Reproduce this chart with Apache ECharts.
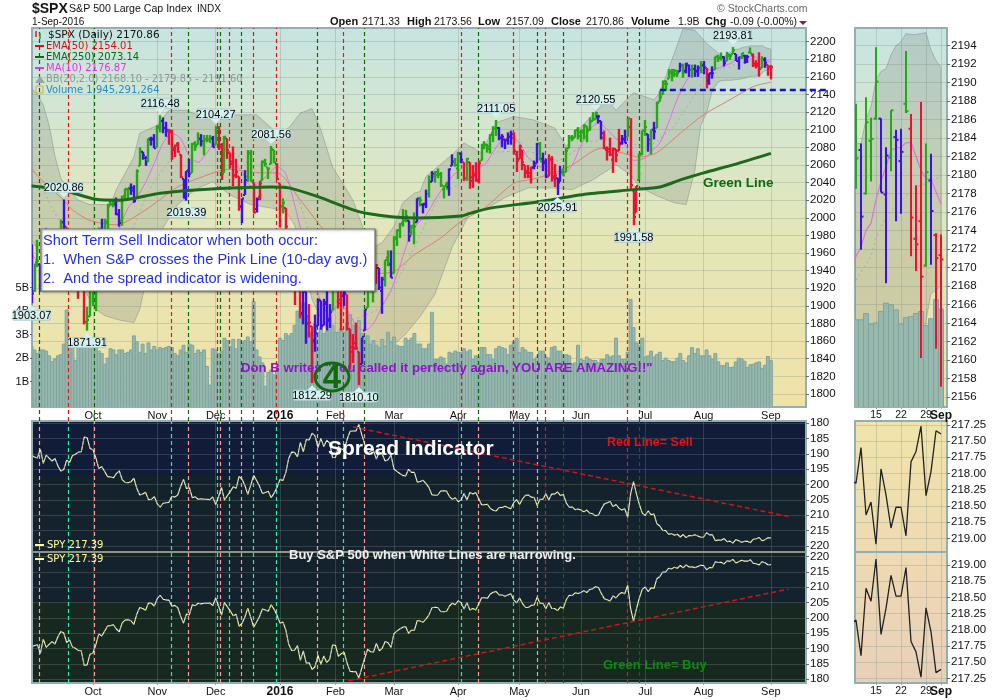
<!DOCTYPE html>
<html>
<head>
<meta charset="utf-8">
<title>$SPX</title>
<script src="https://cdn.jsdelivr.net/npm/echarts@6/dist/echarts.min.js"></script>
<style>
html,body{margin:0;padding:0;background:#fff;}
#main{width:1000px;height:700px;}
</style>
</head>
<body>
<div id="main"></div>
<script>
// bars are addressed by trading day number, 0 = 1-Sep-2015
var opens = [
1970,1917,1950,1947,1927,1972,1938,1951,1963,1955,1979,1995,1989,1961,1961,1943,1934,1936,1929,1881,1888,
1919,1921,1954,1987,1982,1994,2014,2015,2015,2004,1997,2025,2032,2033,2034,2022,2059,2075,2068,2066,2089,2090,
2080,2102,2110,2102,2098,2097,2077,2084,2072,2044,2023,2054,2051,2084,2083,2090,2084,2089,2089,2090,
2083,2102,2081,2051,2090,2074,2061,2048,2047,2013,2026,2047,2074,2040,2010,2024,2042,2063,2057,2061,2077,2061,
2039,2013,2011,1985,1946,1927,1928,1941,1892,1916,1888,1877,1861,1877,1906,1878,1902,1885,1895,
1937,1935,1907,1911,1913,1874,1848,1858,1848,1834,1872,1898,1928,1917,1925,1943,1917,1932,1955,1947,
1937,1976,1986,1994,1997,1997,1982,1991,1995,2020,2015,2015,2027,2041,2047,2049,2049,2032,2038,2035,2059,2063,
2056,2073,2063,2045,2063,2046,2050,2043,2065,2083,2083,2078,2096,2101,2102,2091,2089,2089,2092,2091,2072,
2067,2077,2060,2053,2047,2057,2062,2084,2067,2062,2047,2066,2045,2045,2041,2053,2052,2079,2091,2091,2100,
2093,2097,2104,2100,2110,2112,2115,2110,2091,2077,2078,2066,2078,2076,2085,2090,2092,2103,2031,2006,2043,2073,
2099,2095,2084,2100,2102,2132,2140,2155,2158,2166,2162,2163,2166,2172,2167,2173,2168,2169,2166,2169,
2173,2170,2156,2164,2168,2183,
2182,2182.7,2178,2183.7,2186.1,2186.1,2177.9,2181.9,2184.1,2181.5,2187.7,2185,2173.1,2175,2170.2,2179.4,2173.5,2171.33
];
var highs = [
1970,1948,1975,1947,1970,1988,1962,1961,1963,1983,1998,2020.86,1989,1981,1961,1950,1938,1953,1935,1899,1920,
1928,1951,1989,1999,1999,2016,2021,2019,2023,2010,2025,2033,2034,2039,2037,2055,2080,2075,2070,2090,2092,2095,
2105,2116.48,2114,2109,2101,2100,2083,2086,2072,2044,2053,2067,2085,2087,2097,2095,2094,2094,2094,2093,
2104.27,2104,2085,2093,2090,2074,2081,2067,2047,2022,2054,2077,2077,2040,2023,2042,2065,2067,2057,2081.56,2077,2062,
2039,2022,2011,1985,1960,1936,1948,1951,1935,1916,1902,1877,1890,1908,1906,1908,1917,1902,1940,
1947,1935,1918,1927,1913,1874,1868,1881,1848,1864,1896,1931,1933,1919,1947,1943,1933,1952,1963,1963,
1979,1987,1994,2010,2009,1997,1992,2006,2022,2024,2016,2032,2048,2053,2053,2056,2052,2037,2041,2056,2072,2068,
2075,2074,2063,2068,2063,2060,2063,2065,2084,2087,2084,2095,2104,2111.05,2103,2095,2089,2097,2099,2097,2076,
2083,2077,2060,2060,2058,2065,2085,2086,2074,2067,2072,2070,2061,2045,2059,2056,2080,2094,2094,2100,2103,
2100,2106,2104,2114,2120,2120.55,2117,2110,2099,2081,2091,2080,2078,2101,2094,2100,2113,2113,2031,2036,2073,2099,
2111,2095,2100,2109,2132,2144,2156,2156,2169,2169,2169,2168,2176,2175,2176,2174,2174,2174,2173,2178,
2178,2170,2164,2172,2183,2185,
2187.7,2183.4,2188.4,2186.2,2193.81,2186.1,2183,2187,2184.9,2185,2193.4,2186.6,2178.9,2187.9,2183.4,2182.3,2173.7,2173.56
];
var lows = [
1903.07,1916,1944,1916,1927,1937,1930,1939,1948,1949,1977,1986,1953,1949,1929,1927,1908,1917,1879,1871.91,1888,
1900,1894,1954,1972,1976,1987,2014,2012,2003,1990,1991,2020,2022,2026,2017,2022,2059,2066,2059,2063,2082,2079,
2080,2097,2096,2092,2083,2066,2069,2074,2045,2022,2019.39,2046,2051,2076,2083,2081,2071,2086,2085,2080,
2083,2077,2043,2051,2067,2056,2036,2045,2008,1994,2026,2041,2041,2005,2006,2020,2042,2058,2044,2061,2062,2044,
1989,2005,1979,1938,1918,1901,1918,1886,1879,1857,1864,1812.29,1848,1877,1873,1878,1872,1875,1895,
1921,1897,1872,1900,1872,1828,1835,1850,1810.10,1834,1872,1898,1915,1904,1925,1918,1891,1922,1945,1932,
1937,1968,1977,1990,1995,1973,1980,1970,1995,2013,2005,2011,2023,2041,2040,2045,2035,2022,2032,2025,2059,2058,
2044,2062,2042,2042,2033,2034,2041,2039,2065,2078,2074,2073,2086,2093,2088,2080,2078,2083,2083,2072,2052,
2067,2054,2045,2045,2039,2055,2062,2065,2053,2045,2047,2041,2035,2025.91,2041,2048,2052,2079,2087,2091,2089,
2086,2089,2086,2099,2110,2112,2107,2089,2078,2065,2070,2051,2063,2076,2083,2085,2092,2032,1991.58,2006,2043,2071,
2093,2075,2072,2089,2102,2132,2140,2144,2158,2155,2160,2160,2166,2159,2164,2160,2159,2160,2160,2164,
2163,2147,2151,2158,2168,2177,
2178.5,2171.9,2177.9,2179.3,2186,2178.1,2168.3,2180.4,2175,2175.8,2186.7,2171.2,2169.6,2160.2,2170.1,2170.3,2161.2,2157.09
];
var closes = [
1914,1949,1951,1921,1969,1942,1952,1961,1953,1978,1995,1990,1958,1967,1943,1939,1932,1931,1882,1884,1920,
1924,1951,1987,1980,1996,2013,2015,2017,2004,1994,2024,2033,2034,2031,2019,2053,2075,2071,2066,2090,2089,2079,
2104,2110,2102,2100,2099,2079,2082,2075,2046,2023,2053,2050,2084,2081,2089,2087,2089,2089,2090,2080,
2103,2080,2050,2092,2077,2064,2048,2052,2012,2022,2043,2073,2042,2006,2021,2039,2064,2061,2056,2078,2063,2044,
2013,2017,1990,1943,1922,1924,1939,1890,1922,1880,1881,1859,1869,1907,1877,1904,1883,1893,1940,
1939,1903,1913,1915,1880,1853,1852,1852,1829,1865,1896,1927,1918,1918,1946,1921,1930,1952,1948,1932,
1978,1986,1993,2000,2002,1979,1989,1990,2022,2020,2016,2027,2041,2050,2052,2050,2037,2036,2037,2055,2064,2060,
2073,2066,2045,2067,2042,2048,2042,2062,2082,2083,2081,2094,2101,2102,2091,2092,2088,2092,2095,2076,2065,
2081,2063,2051,2051,2057,2059,2084,2064,2064,2047,2067,2047,2048,2040,2052,2048,2076,2091,2090,2099,2097,
2099,2105,2099,2109,2112,2119,2115,2096,2079,2075,2072,2078,2071,2083,2089,2085,2113,2037,2001,2036,2071,2099,
2103,2089,2100,2098,2130,2137,2152,2152,2164,2162,2167,2164,2173,2165,2175,2168,2169,2167,2170,2174,
2171,2157,2164,2164,2183,2181,
2181.8,2175.5,2185.7,2183.9,2190.1,2178.1,2182.1,2187,2183.8,2182.5,2186.9,2175.4,2172.5,2169,2180.3,2176.1,2171,2170.86
];
// g / b / r per bar, as coloured in the picture
var barTints = ("bggbgbggbggbrgrrrrrgg" + "gggbggggbbgggbbggbbgbb" + "ggbbrrrrrbbbgggbgggb" + "grrgrrrrrbbggrbrgggggr" +
	"rgrrrrrrbbrrbbbbbbg" + "grrbrrrrrbbgggrbbggb" + "gggggbggbgbbgbgggggbbg" + "gbrgrrrrggggggbbbbbrr" +
	"rrrrrbbgbbrrrbbgggggg" + "ggggggbbrrrrrrbbgrrrgg" + "gbgbggggggggbgbbgbbg" + "brbbgg" + "gbgggbbgbbgrrrgbrr");
// billions of shares
var volumes = [
2.5,2.35,2.2,2.35,2.35,2.3,2.1,1.85,1.97,2.1,2.15,2.6,4.05,2.75,2.55,1.9,2.6,2.6,2.9,2.75,2.65,
2.6,2.5,2.3,2.2,1.75,2.0,2.4,2.35,2.15,2.35,2.35,2.2,2.25,2.35,2.95,2.7,2.25,2.6,2.2,2.65,2.35,2.5,
2.35,2.45,2.4,2.45,2.5,2.45,2.2,2.1,2.35,2.55,2.25,2.6,2.55,2.2,2.35,2.25,2.35,1.65,0.85,2.4,
2.35,2.2,2.3,2.85,2.75,2.5,2.8,2.4,2.8,2.65,2.75,2.9,2.7,4.4,2.35,2.05,1.8,0.8,1.4,1.5,1.3,1.5,
2.85,2.75,3.05,2.95,3.05,3.4,4.0,3.7,4.35,3.75,3.1,3.0,3.45,3.1,3.3,3.05,3.15,3.75,3.4,
3.1,3.1,3.25,3.1,3.5,3.85,3.4,3.4,3.6,3.05,2.85,2.95,2.6,2.75,2.55,2.45,2.8,2.5,3.1,2.7,
2.9,2.55,2.5,2.5,2.85,2.75,2.85,3.05,2.6,2.6,2.4,2.4,2.6,3.95,1.95,1.95,2.05,2.0,1.75,2.25,2.2,2.3,
2.25,2.25,2.4,2.27,2.35,1.95,2.1,2.05,2.45,2.45,2.15,2.15,1.95,2.4,2.5,2.45,2.4,2.15,2.55,2.7,2.85,
2.25,2.45,2.35,2.25,2.25,1.95,2.05,2.3,2.3,2.05,2.0,2.45,2.5,2.3,2.3,2.1,2.15,2.1,1.75,1.8,2.55,
1.95,1.9,2.05,1.95,1.9,1.9,1.8,1.95,1.95,2.15,2.05,2.1,2.85,2.1,1.95,1.95,2.25,4.5,3.3,2.65,2.55,2.85,
2.05,2.1,2.3,2.05,2.15,2.25,1.9,2.0,1.9,1.85,1.85,2.0,2.2,1.9,1.8,2.1,2.45,2.2,2.4,2.1,
2.1,2.35,2.1,1.95,2.2,1.85,
1.68,1.68,1.8,1.6,1.62,1.84,2.0,1.97,1.87,1.6,1.72,1.74,1.8,1.84,1.57,1.7,2.07,1.89
];
var spy = [
190.5,191,191.3,188.4,193.1,190.4,191.4,192.3,191.5,193.9,195.6,195.1,192,192.8,190.5,190.1,189.4,189.3,184.5,184.7,188.2,
188.6,191.3,194.8,194.1,195.7,197.4,197.5,197.8,196.4,195.5,198.4,199.3,199.4,199.1,197.9,201.2,203.4,203.1,202.5,204.9,204.8,203.9,
206.3,207.4,206.1,205.9,205.8,203.8,204.1,203.4,200.6,198.3,201.3,201,204.3,204,204.8,204.6,204.8,204.8,204.9,204,
206.5,203.9,200.9,205.1,203.6,202.3,200.7,201.2,197.3,198.2,200.3,203.2,200.2,197,198.7,200.5,202.9,202.6,202.2,204.3,202.8,200.9,
198.3,198.7,196.1,191.4,189.4,189.5,191,186.2,189.3,185.3,185.4,183.2,184.1,187.9,184.9,187.6,185.5,186.5,191.2,
191.1,187.5,188.4,188.7,185.2,182.6,182.5,182.5,180.4,183.7,186.8,189.8,189,188.9,191.7,189.3,190.1,192.3,191.9,190.4,
194.9,195.7,196.4,197,197.2,195,196,196,199.2,199,198.6,199.7,201,203.3,203.5,203.4,202.1,202,202.1,203.9,204.8,204.3,
205.6,205,202.9,205,202.6,203.1,202.6,204.5,206.6,206.6,206.4,207.8,208.4,208.6,207.5,207.5,207.1,207.5,207.9,205.9,204.9,
206.5,204.7,203.5,203.4,204.1,204.2,206.8,204.8,204.8,203,205,203.1,203.1,202.4,203.6,203.2,206,207.4,207.3,208.2,208,
208.3,208.9,208.3,209.3,209.5,210.2,209.9,208,206.3,205.9,205.5,207.2,206.5,207.7,208.3,207.9,210.7,203.1,199,203,206.5,209.3,
210.1,208.6,209.8,209.6,212.8,213.5,215,215,216.2,216,216.5,216.2,217.1,216.3,217.3,216.6,216.7,216.4,216.8,217.2,
217.1,215.7,216.4,216.4,218.3,218.1,
218.15,217.6,218.64,218.44,219.09,217.93,218.33,218.84,218.52,218.52,218.96,217.82,217.66,217.27,218.34,217.97,217.34,217.39
];

var ema250Days = [0,10,22,30,44,63,82,88,98,110,115,124,132,147,150,157,173,190,206,215,222,230,241,253];
var ema250Vals = [2036,2032,2021,2020,2028,2033,2035,2034,2024,2009,2005,2001,1999.8,2002,2005,2011,2018,2027,2032,2035,2043,2051,2061,2073.14];
var ema50Days = [0,5,11,14,20,29,39,50,58,67,79,84,92,99,106,112,118,124,131,140,147,155,165,173,184,195,204,208,214,222,230,239,247,253];
var ema50Vals = [2055,2038,2020,2009,1997,1992,2009,2035,2046,2055,2051,2051,2020,1990,1960,1942,1937,1939,1958,1977,1996,2011,2039,2045,2058,2079,2072,2069,2074,2096,2117,2134,2149,2154.01];
var ma10Days = [0,3,6,9,12,15,18,20,24,27,30,33,36,39,42,45,48,51,54,57,60,63,66,69,72,75,78,81,84,87,90,93,96,99,102,105,108,111,114,117,120,123,126,129,132,135,138,141,144,146,149,152,155,158,161,164,167,170,173,176,179,182,185,188,191,194,197,200,203,206,208,210,212,215,218,221,224,227,230,233,236,237,238,239,240,241,242,243,244,245,246,247,248,249,250,251,252,253];
var ma10Vals = [1960,1945,1938,1950,1960,1957,1945,1934,1933,1955,1988,2011,2023,2040,2062,2085,2096,2090,2070,2063,2074,2085,2078,2065,2052,2036,2040,2050,2058,2050,2015,1975,1935,1905,1890,1900,1895,1878,1872,1880,1900,1918,1945,1975,1993,2003,2020,2035,2047,2053,2060,2058,2060,2075,2088,2092,2085,2068,2060,2055,2050,2050,2060,2082,2100,2108,2100,2090,2084,2065,2066,2068,2075,2085,2108,2135,2155,2165,2168,2168,2171.2,2172.2,2174,2174.8,2177.3,2179.3,2180.9,2182.7,2182.9,2183,2183.5,2183.5,2182,2180.5,2179.6,2179.5,2178.2,2176.87];
var bbUpperDays = [0,2,4,6,8,10,12,16,20,23,27,29,35,37,43,47,53,58,64,71,77,84,88,92,96,99,103,110,116,120,124,127,131,133,135,139,144,148,154,159,165,172,179,183,188,197,200,206,213,215,220,223,227,231,234,236,237,238,239,240,241,242,243,244,245,246,247,248,249,250,251,252,253];
var bbUpperVals = [2147,2140,2128,2105,2070,2045,2035,2020,2015,2015,2015,2032,2069,2096,2105,2122,2122,2115,2115,2117,2117,2096,2102,2119,2124,2100,2058,2020,1965,1972,1990,2017,2028,2030,2047,2058,2072,2085,2074,2108,2115,2111,2102,2081,2103,2134,2122,2142,2134,2142,2187,2215,2213,2198,2190,2183.4,2183.4,2186,2187.4,2190.3,2191.2,2191.5,2193,2194,2194.4,2195.3,2195.2,2195.2,2195.3,2195.4,2193.5,2192.4,2191.6];
var bbLowerDays = [0,5,10,18,22,25,30,35,37,40,45,50,56,62,68,75,82,87,90,93,96,100,105,110,115,120,125,128,133,138,144,150,156,162,170,178,185,192,200,205,208,214,220,224,227,229,231,233,235,236,237,238,239,240,241,242,243,244,245,246,247,248,249,250,251,252,253];
var bbLowerVals = [1975,1950,1925,1918,1896,1889,1884,1881,1896,1941,1989,2015,2032,2041,2026,2015,2011,2007,1992,1952,1907,1879,1856,1841,1837,1845,1859,1868,1888,1913,1967,2005,2011,2023,2034,2034,2032,2043,2060,2049,2035,2025,2017,2015,2054,2105,2119,2145,2154,2155.6,2156,2156.3,2156,2156.4,2156.9,2157.1,2157.8,2158.5,2159.6,2160.5,2160.7,2161,2161.4,2164.3,2167.2,2167.5,2168.1];
var bbMidDays = [0,8,20,30,40,50,60,70,80,90,100,110,120,130,140,150,160,170,180,190,200,210,220,230,236,239,240,242,244,246,248,250,253];
var bbMidVals = [2060,2005,1945,1955,2030,2075,2085,2072,2045,2030,1930,1885,1900,1960,2025,2045,2075,2075,2065,2085,2090,2080,2105,2155,2168.6,2171.2,2173.1,2175.5,2176.6,2177.7,2178.7,2179.1,2179.85];

// signal lines: read at these day positions
var buyDays = [2.6,21.5,53.6,64.6,71.8,97.8,113.9,152.9,173.1,182,208];
var sellDays = [12.6,47.8,63.5,67.7,75.9,83.7,106.7,146.9,164.9,175.8,203.9];
// from this day on the lines keep their dark colours in the spread panels
var plainFromDay = 175;

var calloutDays = [11,44,63,82,159,193,240,0,19,53,96,112,180,206];
var calloutVals = [2020.86,2116.48,2104.27,2081.56,2111.05,2120.55,2193.81,1903.07,1871.91,2019.39,1812.29,1810.10,2025.91,1991.58];
var calloutAbove = [1,1,1,1,1,1,1,0,0,0,0,0,0,0];

var monthDays = [21,43,63,85,104,124,146,167,188,210,230,253];
var monthNames = ['Oct','Nov','Dec','2016','Feb','Mar','Apr','May','Jun','Jul','Aug','Sep'];
var insetDays = [240,245,250,253];
var insetNames = ['15','22','29','Sep'];

var priceTicks = [1800,1820,1840,1860,1880,1900,1920,1940,1960,1980,2000,2020,2040,2060,2080,2100,2120,2140,2160,2180,2200];
var insetPriceTicks = [2156,2158,2160,2162,2164,2166,2168,2170,2172,2174,2176,2178,2180,2182,2184,2186,2188,2190,2192,2194];
var spreadTicks = [180,185,190,195,200,205,210,215,220];
var insetSpyTicks = [217.25,217.5,217.75,218,218.25,218.5,218.75,219];
var volumeTicks = [1,2,3,4,5];

var sellLineDays = [110,259], sellLineVals = [181.2,210.4];
var buyLineDays = [108.4,259], buyLineVals = [179.5,209.4];
var supportDays = [215,272], supportVals = [2145,2145];

var FONT = '"Liberation Sans", Arial, sans-serif';
var GREEN = '#24a814', BLUE = '#3d10e6', RED = '#ee1030';
var tintColor = {g: GREEN, b: BLUE, r: RED};
var GRID_LIGHT = 'rgba(120,140,130,0.28)', GRID_DARK = 'rgba(170,180,170,0.22)';

function pairs(days, vals) {
	return days.map(function (d, i) { return [d, vals[i]]; });
}
function vgrad(stops) {
	return {type: 'linear', x: 0, y: 0, x2: 0, y2: 1, colorStops: stops.map(function (s) { return {offset: s[0], color: s[1]}; })};
}

var barRows = closes.map(function (c, i) { return [i, opens[i], highs[i], lows[i], c]; });
var volRows = volumes.map(function (v, i) { return [i, v]; });
var spyRows = spy.map(function (v, i) { return [i, v]; });

function ohlcSeries(xi, yi, tick, width) {
	return {
		type: 'custom', xAxisIndex: xi, yAxisIndex: yi, clip: true, z: 6, silent: true,
		data: barRows, encode: {x: 0, y: [1, 2, 3, 4]},
		renderItem: function (params, api) {
			var d = api.value(0);
			var col = tintColor[barTints.charAt(d)];
			var hi = api.coord([d, api.value(2)]);
			var lo = api.coord([d, api.value(3)]);
			var op = api.coord([d, api.value(1)]);
			var cl = api.coord([d, api.value(4)]);
			var x = Math.round(hi[0]);
			var st = {stroke: col, lineWidth: width};
			var st2 = {stroke: col, lineWidth: 2};
			return {type: 'group', children: [
				{type: 'line', shape: {x1: x, y1: hi[1], x2: x, y2: lo[1]}, style: st},
				{type: 'line', shape: {x1: x - tick, y1: op[1], x2: x, y2: op[1]}, style: st2},
				{type: 'line', shape: {x1: x, y1: cl[1], x2: x + tick, y2: cl[1]}, style: st2}
			]};
		}
	};
}
function volumeSeries(xi, yi) {
	return {
		type: 'custom', xAxisIndex: xi, yAxisIndex: yi, clip: true, z: 3, silent: true,
		data: volRows, encode: {x: 0, y: 1},
		renderItem: function (params, api) {
			var p = api.coord([api.value(0), api.value(1)]);
			var base = api.coord([api.value(0), 0]);
			var w = api.size([1, 0])[0];
			return {type: 'rect', shape: {x: p[0] - w / 2, y: p[1], width: w, height: base[1] - p[1] + 3},
				style: {fill: '#98b8ae', stroke: '#7ea49e', lineWidth: 1}};
		}
	};
}
function bandSeries(xi, yi) {
	return {
		type: 'custom', xAxisIndex: xi, yAxisIndex: yi, clip: true, z: 2, silent: true,
		data: [[0, bbUpperVals[0]]], encode: {x: 0, y: 1},
		renderItem: function (params, api) {
			var pts = [];
			bbUpperDays.forEach(function (d, i) { pts.push(api.coord([d, bbUpperVals[i]])); });
			for (var i = bbLowerDays.length - 1; i >= 0; i--) pts.push(api.coord([bbLowerDays[i], bbLowerVals[i]]));
			return {type: 'polygon', shape: {points: pts}, style: {fill: 'rgba(118,124,120,0.24)', stroke: 'rgba(120,130,130,0.45)', lineWidth: 1}};
		}
	};
}
function curve(xi, yi, rows, color, width, z, extra) {
	var s = {type: 'line', xAxisIndex: xi, yAxisIndex: yi, data: rows, showSymbol: false, silent: true, z: z,
		lineStyle: {color: color, width: width}};
	for (var k in extra) s[k] = extra[k];
	return s;
}
function signals(xi, yi, colorOf) {
	var rows = [];
	buyDays.forEach(function (d) { rows.push({xAxis: d, lineStyle: {color: colorOf('buy', d), width: 1.2, type: [4, 3]}}); });
	sellDays.forEach(function (d) { rows.push({xAxis: d, lineStyle: {color: colorOf('sell', d), width: 1.2, type: [4, 3]}}); });
	return {type: 'line', xAxisIndex: xi, yAxisIndex: yi, data: [], z: 4, silent: true,
		markLine: {silent: true, symbol: 'none', animation: false, label: {show: false}, data: rows}};
}
function timeAxis(grid, min, max, ticks, names, show) {
	var inset = grid >= 3 && grid <= 5;
	// an empty label at the far end, so that the close 29 and Sep both stay
	var labelValues = inset ? ticks.concat([max]) : ticks;
	return {
		type: 'value', gridIndex: grid, min: min, max: max, position: 'bottom',
		axisLine: {show: false},
		axisTick: {show: show, length: 2, customValues: ticks, lineStyle: {color: '#8aa'}},
		splitLine: {show: true, customValues: ticks, lineStyle: {color: grid == 1 || grid == 2 ? GRID_DARK : GRID_LIGHT, width: 1}},
		axisLabel: {show: show, customValues: labelValues, margin: 3, color: '#111', fontFamily: FONT, fontSize: inset ? 10.5 : 11, hideOverlap: false,
			formatter: function (v) {
				var n = names[ticks.indexOf(v)] || '';
				return (n == '2016' || (n == 'Sep' && inset)) ? '{b|' + n + '}' : n;
			},
			rich: {b: {fontWeight: 'bold', fontFamily: FONT, fontSize: 12, color: '#111'}}}
	};
}
function valueAxis(grid, min, max, ticks, inverse, digits, lineColor) {
	return {
		type: 'value', gridIndex: grid, min: min, max: max, inverse: inverse, position: 'right',
		axisLine: {show: false},
		axisTick: {show: true, length: 3, customValues: ticks, lineStyle: {color: '#667'}},
		splitLine: {show: true, customValues: ticks, lineStyle: {color: lineColor, width: 1}},
		axisLabel: {customValues: ticks, margin: 4, color: '#111', fontFamily: FONT, fontSize: 11.5, showMinLabel: true, showMaxLabel: true,
			formatter: function (v) { return v.toFixed(digits); }}
	};
}
function hiddenAxis(grid, min, max) {
	return {type: 'value', gridIndex: grid, min: min, max: max, show: false, splitLine: {show: false}};
}

function gText(x, y, text, font, fill, align) {
	return {type: 'text', x: x, y: y, z: 50, silent: true,
		style: {text: text, font: font, fill: fill, align: align || 'left', verticalAlign: 'middle'}};
}
function sans(px, bold) { return (bold ? 'bold ' : '') + px + 'px ' + FONT; }
function dejavu(px) { return px + 'px "DejaVu Sans", sans-serif'; }
function key(y, color) {
	return {type: 'line', z: 50, silent: true, shape: {x1: 35, y1: y, x2: 44, y2: y}, style: {stroke: color, lineWidth: 2}};
}

var headerItems = [
	gText(32, 9, '$SPX', sans(14, true), '#111'),
	gText(69, 9, 'S&P 500 Large Cap Index', sans(10.6), '#111'),
	gText(197, 9.5, 'INDX', sans(10), '#111'),
	gText(32, 22, '1-Sep-2016', sans(10), '#111'),
	gText(330, 22, 'Open', sans(11, true), '#111'), gText(362, 22, '2171.33', sans(10.5), '#111'),
	gText(407, 22, 'High', sans(11, true), '#111'), gText(434, 22, '2173.56', sans(10.5), '#111'),
	gText(478, 22, 'Low', sans(11, true), '#111'), gText(506, 22, '2157.09', sans(10.5), '#111'),
	gText(551, 22, 'Close', sans(11, true), '#111'), gText(586, 22, '2170.86', sans(10.5), '#111'),
	gText(631, 22, 'Volume', sans(11, true), '#111'), gText(678, 22, '1.9B', sans(10.5), '#111'),
	gText(705, 22, 'Chg', sans(11, true), '#111'), gText(730, 22, '-0.09 (-0.00%)', sans(10.5), '#111'),
	{type: 'polygon', z: 50, silent: true, shape: {points: [[799, 21], [807, 21], [803, 25]]}, style: {fill: '#80203c'}},
	gText(717, 9, '\u00A9 StockCharts.com', sans(10.5), '#666')
];
var legendItems = [
	gText(48, 35, '$SPX (Daily) 2170.86', dejavu(10.5), '#111'),
	{type: 'line', z: 50, silent: true, shape: {x1: 36, y1: 31, x2: 36, y2: 37}, style: {stroke: RED, lineWidth: 1.5}},
	{type: 'line', z: 50, silent: true, shape: {x1: 40, y1: 33, x2: 40, y2: 39}, style: {stroke: GREEN, lineWidth: 1.5}},
	key(46, '#dd1010'), gText(46, 46, 'EMA(50) 2154.01', dejavu(10), '#dd1010'),
	key(57, '#0a6a0a'), gText(46, 57, 'EMA(250) 2073.14', dejavu(10), '#0a6a0a'),
	key(68, '#f030f0'), gText(46, 68, 'MA(10) 2176.87', dejavu(10), '#f030f0'),
	gText(46, 79, 'BB(20,2.0) 2168.10 - 2179.85 - 2191.60', dejavu(9.8), '#8c9698'),
	{type: 'polygon', z: 50, silent: true, shape: {points: [[35, 83], [40, 76], [45, 83]]}, style: {fill: '#9aa6a6'}},
	gText(46, 90, 'Volume 1,945,291,264', dejavu(10), '#1f8fc4'),
	{type: 'rect', z: 50, silent: true, shape: {x: 36, y: 86, width: 7, height: 7}, style: {fill: 'none', stroke: '#d0b040', lineWidth: 1}}
];
var noteItems = [
	{type: 'rect', z: 49, silent: true, shape: {x: 41, y: 229, width: 334, height: 62},
		style: {fill: '#fff', stroke: '#777', lineWidth: 1.2, shadowBlur: 2, shadowOffsetX: 1, shadowOffsetY: 1, shadowColor: 'rgba(0,0,0,0.4)'}},
	gText(43, 241, 'Short Term Sell Indicator when both occur:', sans(14.6), '#2230e0'),
	gText(43, 260, '1.  When S&P crosses the Pink Line (10-day avg.)', sans(14.6), '#2230e0'),
	gText(43, 279, '2.  And the spread indicator is widening.', sans(14.6), '#2230e0'),
	gText(241, 368, 'Don B writes "You called it perfectly again, YOU ARE AMAZING!!"', sans(13.2, true), '#9312cc'),
	{type: 'ellipse', z: 50, silent: true, shape: {cx: 332, cy: 377, rx: 17, ry: 14}, style: {fill: 'none', stroke: '#0f6a10', lineWidth: 3}},
	gText(332, 379, '4', sans(33, true), '#0f6a10', 'center'),
	gText(703, 183, 'Green Line', sans(13.5, true), '#0f6a10'),
	gText(328, 449, 'Spread Indicator', sans(21, true), '#fff'),
	gText(607, 443, 'Red Line= Sell', sans(12.5, true), '#ee1010'),
	gText(289, 555, 'Buy S&P 500 when White Lines are narrowing.', sans(13, true), '#eee'),
	gText(603, 665, 'Green Line= Buy', sans(13, true), '#0e8a0e'),
	{type: 'line', z: 50, silent: true, shape: {x1: 35, y1: 545, x2: 44, y2: 545}, style: {stroke: '#ffff99', lineWidth: 2}},
	gText(47, 545, 'SPY 217.39', dejavu(10), '#ffff99'),
	{type: 'line', z: 50, silent: true, shape: {x1: 35, y1: 559, x2: 44, y2: 559}, style: {stroke: '#ffff99', lineWidth: 2}},
	gText(47, 559, 'SPY 217.39', dejavu(10), '#ffff99'),
	{type: 'line', z: 30, silent: true, shape: {x1: 32, y1: 552, x2: 806, y2: 552}, style: {stroke: '#8a7a50', lineWidth: 1.2}},
	{type: 'line', z: 30, silent: true, shape: {x1: 855, y1: 552, x2: 947, y2: 552}, style: {stroke: '#92b0b0', lineWidth: 1.5}}
];

var calloutRows = calloutDays.map(function (d, i) { return [d, calloutVals[i], calloutAbove[i]]; });
var calloutSeries = {
	type: 'custom', xAxisIndex: 0, yAxisIndex: 0, clip: false, z: 8, silent: true,
	data: calloutRows, encode: {x: 0, y: 1},
	renderItem: function (params, api) {
		var p = api.coord([api.value(0), api.value(1)]);
		var up = api.value(2) == 1;
		var dir = up ? -1 : 1;
		var tip = p[1] + dir * 2;
		var boxNear = tip + dir * 5;
		var boxH = 10;
		var boxY = up ? boxNear - boxH : boxNear;
		var w = 37;
		return {type: 'group', children: [
			{type: 'rect', shape: {x: p[0] - w / 2, y: boxY, width: w, height: boxH}, style: {fill: '#d6eff0', stroke: '#a8cccc', lineWidth: 1}},
			{type: 'polygon', shape: {points: [[p[0] - 5, boxNear], [p[0] + 5, boxNear], [p[0], tip]]}, style: {fill: '#d6eff0'}},
			{type: 'text', x: p[0], y: boxY + boxH / 2 + 0.5, style: {text: api.value(1).toFixed(2), font: sans(11), fill: '#000', align: 'center', verticalAlign: 'middle'}}
		]};
	}
};
// the dashed support line runs on over the price labels
var supportSeries = {
	type: 'custom', xAxisIndex: 0, yAxisIndex: 0, clip: false, z: 7, silent: true,
	data: [[supportDays[0], supportVals[0], supportDays[1], supportVals[1]]], encode: {x: [0, 2], y: [1, 3]},
	renderItem: function (params, api) {
		var a = api.coord([api.value(0), api.value(1)]);
		var b = api.coord([api.value(2), api.value(3)]);
		return {type: 'line', shape: {x1: a[0], y1: a[1], x2: b[0], y2: b[1]}, style: {stroke: '#1212e0', lineWidth: 2.5, lineDash: [6, 4]}};
	}
};

var DAY_MIN = 0.14, DAY_MAX = 265.03;
var INSET_MIN = 235.8, INSET_MAX = 254.2;

var option = {
	backgroundColor: '#fff',
	animation: false,
	grid: [
		{left: 32, top: 28, width: 774, height: 379, show: true, borderColor: '#92b0b0', borderWidth: 2,
			backgroundColor: vgrad([[0, '#c6e4e2'], [0.25, '#d5e6d0'], [0.55, '#e4e6b8'], [1, '#f1e2a6']])},
		{left: 32, top: 421, width: 774, height: 131, show: true, borderColor: '#92b0b0', borderWidth: 2,
			backgroundColor: vgrad([[0, '#101c38'], [0.42, '#101c38'], [0.42, '#13222a'], [1, '#14222e']])},
		{left: 32, top: 552, width: 774, height: 131, show: true, borderColor: '#92b0b0', borderWidth: 2,
			backgroundColor: vgrad([[0, '#14222e'], [0.39, '#14222e'], [0.39, '#162820'], [1, '#172820']])},
		{left: 855, top: 28, width: 92, height: 379, show: true, borderColor: '#92b0b0', borderWidth: 2,
			backgroundColor: vgrad([[0, '#c6e4e2'], [0.25, '#d5e6d0'], [0.55, '#e4e6b8'], [1, '#f1e2a6']])},
		{left: 855, top: 421, width: 92, height: 131, show: true, borderColor: '#92b0b0', borderWidth: 2,
			backgroundColor: vgrad([[0, '#f0e4aa'], [1, '#eedab2']])},
		{left: 855, top: 552, width: 92, height: 131, show: true, borderColor: '#92b0b0', borderWidth: 2,
			backgroundColor: vgrad([[0, '#eedab4'], [1, '#e8d0b8']])},
		{left: 32, top: 28, width: 774, height: 393},
		{left: 32, top: 421, width: 774, height: 262}
	],
	xAxis: [
		timeAxis(0, DAY_MIN, DAY_MAX, monthDays, monthNames, true),
		timeAxis(1, DAY_MIN, DAY_MAX, monthDays, monthNames, false),
		timeAxis(2, DAY_MIN, DAY_MAX, monthDays, monthNames, true),
		timeAxis(3, INSET_MIN, INSET_MAX, insetDays, insetNames, true),
		timeAxis(4, INSET_MIN, INSET_MAX, insetDays, insetNames, false),
		timeAxis(5, INSET_MIN, INSET_MAX, insetDays, insetNames, true),
		{type: 'value', gridIndex: 6, min: DAY_MIN, max: DAY_MAX, show: false, splitLine: {show: false}},
		{type: 'value', gridIndex: 7, min: DAY_MIN, max: DAY_MAX, show: false, splitLine: {show: false}}
	],
	yAxis: [
		valueAxis(0, 1785.2, 2215.5, priceTicks, false, 0, GRID_LIGHT),
		{type: 'value', gridIndex: 0, min: -0.077, max: 16.05, position: 'left', splitLine: {show: false}, axisLine: {show: false},
			axisTick: {show: true, length: 2, customValues: volumeTicks, lineStyle: {color: '#667'}},
			axisLabel: {customValues: volumeTicks, margin: 3, color: '#111', fontFamily: FONT, fontSize: 11, formatter: function (v) { return v + 'B'; }}},
		valueAxis(1, 179.25, 222, spreadTicks, true, 0, GRID_DARK),
		valueAxis(2, 178.8, 221.5, spreadTicks, false, 0, GRID_DARK),
		valueAxis(3, 2154.9, 2195.9, insetPriceTicks, false, 0, GRID_LIGHT),
		{type: 'value', gridIndex: 3, min: 0, max: 7.3, show: false, splitLine: {show: false}},
		valueAxis(4, 217.19, 219.21, insetSpyTicks, true, 2, GRID_LIGHT),
		valueAxis(5, 217.18, 219.2, insetSpyTicks, false, 2, GRID_LIGHT),
		hiddenAxis(6, 0, 1),
		hiddenAxis(7, 0, 1)
	],
	series: [
		bandSeries(0, 0),
		volumeSeries(0, 1),
		signals(6, 8, function (kind) { return kind == 'buy' ? '#0a6a0a' : '#e21818'; }),
		curve(0, 0, pairs(bbMidDays, bbMidVals), '#a8aca4', 1, 5, {smooth: 0.2, lineStyle: {color: '#a8aca4', width: 1, type: [2, 3]}}),
		curve(0, 0, pairs(ema50Days, ema50Vals), '#d9806c', 1, 5, {smooth: 0.25}),
		curve(0, 0, pairs(ma10Days, ma10Vals), '#e46ce4', 1, 5, {smooth: 0.25}),
		ohlcSeries(0, 0, 2, 2.4),
		curve(0, 0, pairs(ema250Days, ema250Vals), '#1d6a1d', 3, 7, {smooth: 0.25}),
		supportSeries,
		calloutSeries,

		signals(7, 9, function (kind, d) {
			if (d >= plainFromDay) return kind == 'buy' ? '#0a6a0a' : '#e21818';
			return kind == 'buy' ? '#ff9c94' : '#24f0a4';
		}),
		curve(1, 2, spyRows, '#ffffa0', 1.1, 6),
		curve(1, 2, spyRows, '#7f8fe8', 1, 6, {lineStyle: {color: '#7f8fe8', width: 0.9, type: [2, 3]}}),
		curve(2, 3, spyRows, '#ffffa0', 1.1, 6),
		curve(2, 3, spyRows, '#7f8fe8', 1, 6, {lineStyle: {color: '#7f8fe8', width: 0.9, type: [2, 3]}}),
		curve(1, 2, pairs(sellLineDays, sellLineVals), '#c81818', 1.5, 7, {lineStyle: {color: '#c81818', width: 1.5, type: [5, 3]}}),
		curve(2, 3, pairs(buyLineDays, buyLineVals), '#c81818', 1.5, 7, {lineStyle: {color: '#c81818', width: 1.5, type: [5, 3]}}),

		bandSeries(3, 4),
		volumeSeries(3, 5),
		curve(3, 4, pairs(bbMidDays, bbMidVals), '#a8aca4', 1, 5, {lineStyle: {color: '#a8aca4', width: 1, type: [2, 3]}}),
		curve(3, 4, pairs(ma10Days, ma10Vals), '#e46ce4', 1.2, 5),
		ohlcSeries(3, 4, 2.5, 2),
		curve(4, 6, spyRows, '#222', 1.3, 6),
		curve(5, 7, spyRows, '#222', 1.3, 6)
	],
	graphic: {elements: headerItems.concat(legendItems, noteItems)}
};

var myChart = echarts.init(document.getElementById('main'));
myChart.setOption(option);
</script>
</body>
</html>
